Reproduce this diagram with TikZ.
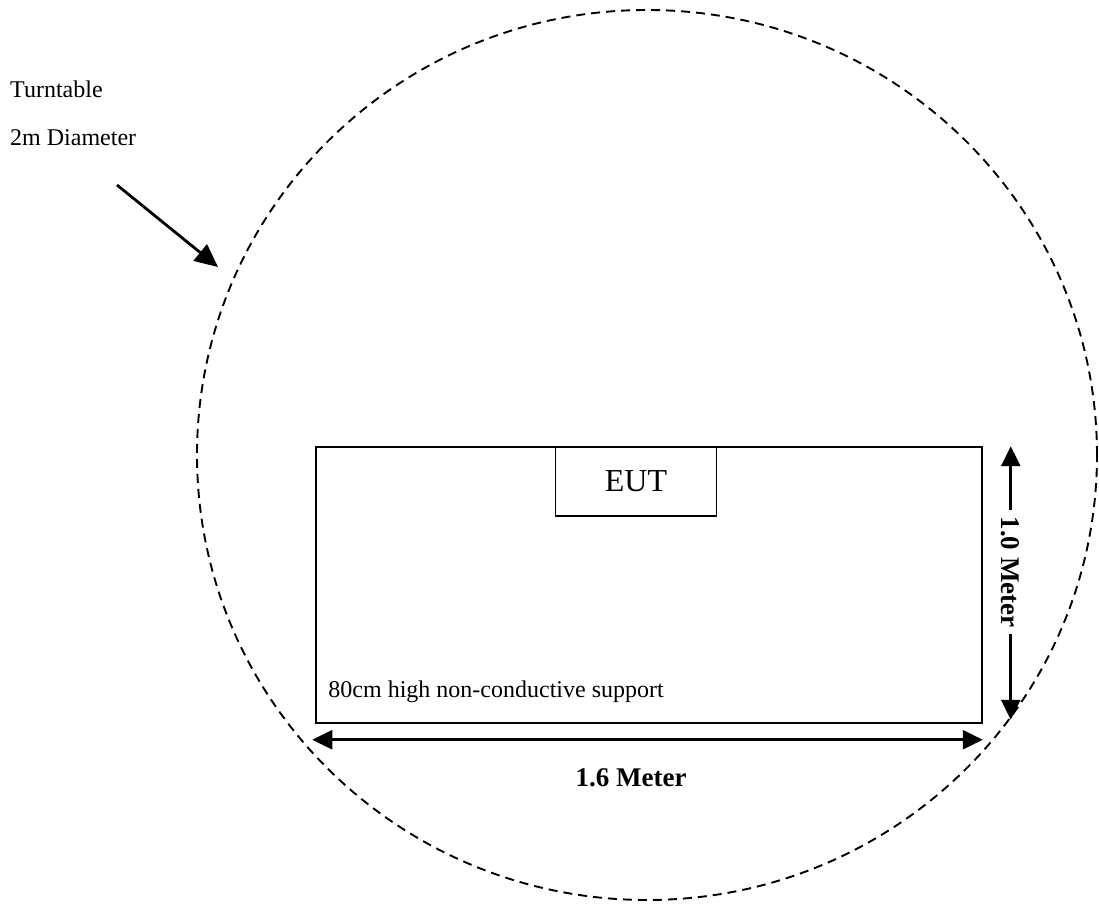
\documentclass[tikz,border=0pt]{standalone}
\usepackage{fontspec}
\setmainfont{Liberation Serif}
\usetikzlibrary{arrows.meta}
\tikzset{
  dimarrow/.style={line width=2.6pt, {Triangle[length=20pt,width=19pt]}-{Triangle[length=20pt,width=19pt]}},
  lbl/.style={font=\fontsize{24}{28}\selectfont, inner sep=0pt},
  dimlbl/.style={font=\fontsize{27}{32}\selectfont\bfseries},
}
\begin{document}
\begin{tikzpicture}[x=1pt,y=1pt]
  \useasboundingbox (0,0) rectangle (1099,905);
  % turntable outline
  \draw[line width=1.9pt, dash pattern=on 9pt off 6pt] (647,450) ellipse [x radius=450pt, y radius=445pt];
  \node[lbl, anchor=base west] (turn) at (10,807) {Turntable};
  \node[lbl, anchor=base west] (diam) at (10,759) {2m Diameter};
  \coordinate (tail) at (117,720);
  \coordinate (tip) at (218,638);
  \draw[line width=2.8pt, -{Triangle[length=23pt,width=21pt]}] (tail) -- (tip);
  % table and EUT
  \node[draw, line width=1.5pt, minimum width=666pt, minimum height=276pt, inner sep=0pt] (support) at (649,320) {};
  \node[draw, line width=1.5pt, minimum width=161pt, minimum height=69pt, anchor=north,
        font=\fontsize{32}{38}\selectfont] (eut) at ([xshift=-13pt]support.north) {EUT};
  \node[lbl, anchor=base west] (suptxt) at ([xshift=13pt, yshift=26pt]support.south west) {80cm high non-conductive support};
  % dimensions
  \draw[dimarrow] ([xshift=-3pt, yshift=-16pt]support.south west) -- ([yshift=-16pt]support.south east);
  \node[dimlbl] (widthlbl) at (631,127) {1.6 Meter};
  \draw[dimarrow] ([xshift=28pt]support.north east) -- ([xshift=28pt, yshift=4pt]support.south east);
  \node[dimlbl, rotate=-90, fill=white, inner sep=7pt] (heightlbl) at (1010,333) {1.0 Meter};
\end{tikzpicture}
\end{document}
